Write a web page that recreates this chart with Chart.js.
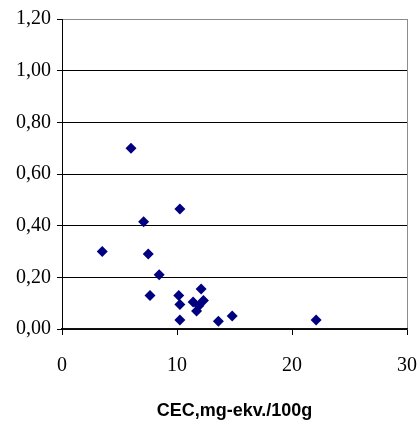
<!DOCTYPE html>
<html>
<head>
<meta charset="utf-8">
<script src="https://cdn.jsdelivr.net/npm/chart.js@4/dist/chart.umd.min.js"></script>
<style>
  html, body { margin: 0; padding: 0; background: #fff; }
  #wrap { width: 420px; height: 424px; }
</style>
</head>
<body>
<div id="wrap"><canvas id="c" width="420" height="424"></canvas></div>
<script>
// Cation exchange capacity of each sample (mg-ekv./100g)
const cecValues = [3.5, 6.0, 7.1, 7.5, 7.65, 8.45, 10.25, 10.15, 10.25, 10.25, 11.4, 11.7, 11.9, 12.1, 12.3, 13.6, 14.8, 22.1];
// Measured value for the same samples
const sampleValues = [0.30, 0.70, 0.415, 0.29, 0.13, 0.21, 0.465, 0.13, 0.095, 0.035, 0.105, 0.07, 0.09, 0.155, 0.11, 0.03, 0.05, 0.035];

const xTicks = { min: 0, max: 30, step: 10 };
const yTicks = { min: 0, max: 1.2, step: 0.2 };
const xTitle = 'CEC,mg-ekv./100g';

const SERIF = '"Liberation Serif", "Times New Roman", "DejaVu Serif", serif';
const SANS = '"Liberation Sans", Arial, sans-serif';

function draw() {
  const points = cecValues.map((x, i) => ({ x: x, y: sampleValues[i] }));

  new Chart(document.getElementById('c'), {
    type: 'scatter',
    data: {
      datasets: [{
        data: points,
        pointStyle: 'rectRot',
        pointRadius: 5.5,
        pointHoverRadius: 5.5,
        backgroundColor: '#000080',
        borderColor: '#000080',
        borderWidth: 0
      }]
    },
    options: {
      responsive: false,
      animation: false,
      events: [],
      layout: { padding: { top: 19, right: 13, bottom: 2, left: 0 } },
      plugins: { legend: { display: false }, tooltip: { enabled: false } },
      scales: {
        x: {
          type: 'linear',
          min: xTicks.min,
          max: xTicks.max,
          afterFit: s => { s.height = 93; s.paddingLeft = 0; s.paddingRight = 0; },
          ticks: {
            stepSize: xTicks.step,
            color: '#000',
            font: { family: SERIF, size: 20 },
            padding: 19,
            maxRotation: 0
          },
          grid: {
            drawOnChartArea: true,
            color: c => (c.tick && c.tick.value === xTicks.max) ? '#8c8c8c' : 'rgba(0,0,0,0)',
            tickColor: '#000',
            tickLength: 6,
            lineWidth: 1
          },
          border: { display: true, color: '#111', width: 1.5 },
          title: {
            display: true,
            text: xTitle,
            color: '#000',
            font: { family: SANS, size: 18, weight: 'bold' },
            padding: { top: 0, bottom: 0 }
          }
        },
        y: {
          type: 'linear',
          min: yTicks.min,
          max: yTicks.max,
          afterFit: s => { s.width = 62; s.paddingTop = 0; s.paddingBottom = 0; },
          ticks: {
            stepSize: yTicks.step,
            color: '#000',
            font: { family: SERIF, size: 20 },
            padding: 6,
            callback: v => v.toFixed(2).replace('.', ',')
          },
          grid: {
            color: c => (c.tick && Math.abs(c.tick.value - yTicks.max) < 1e-9) ? '#8c8c8c' : '#000',
            tickColor: '#000',
            tickLength: 5,
            lineWidth: 1
          },
          border: { display: true, color: '#000', width: 1 }
        }
      }
    }
  });
}

// make sure the local fonts are ready before the canvas text is drawn
Promise.all([
  document.fonts.load('20px "Liberation Serif"'),
  document.fonts.load('bold 18px "Liberation Sans"')
]).then(draw, draw);
</script>
</body>
</html>
